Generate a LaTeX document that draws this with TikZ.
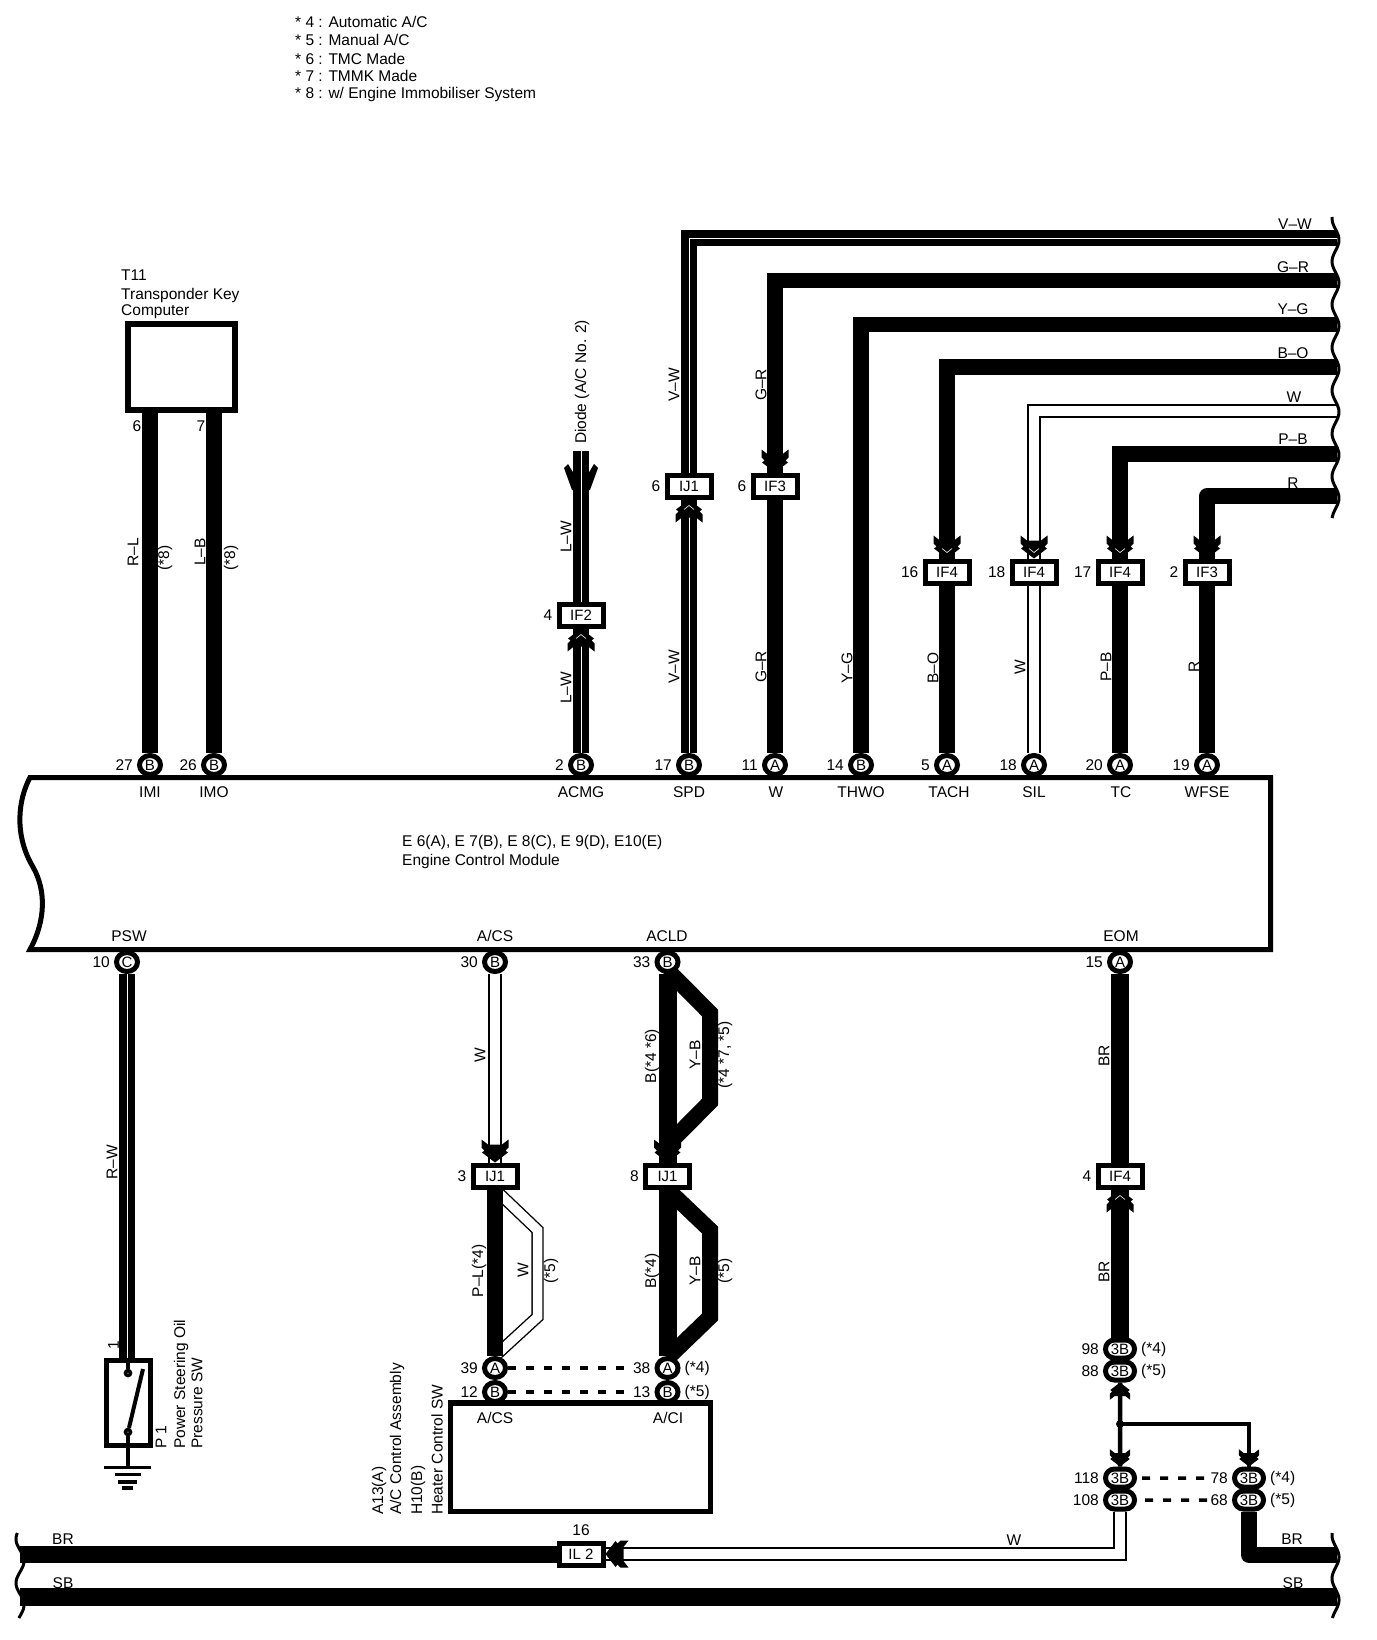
\documentclass[tikz,border=0pt]{standalone}
\usepackage{fontspec}
\setmainfont{Liberation Sans}
\usetikzlibrary{positioning,shapes.geometric,shapes.misc}
\pgfdeclarelayer{wires}
\pgfsetlayers{wires,main}
\tikzset{
  txt/.style={inner sep=0pt,font=\fontsize{15.5}{17}\selectfont},
  vtxt/.style={txt,rotate=90},
  pinring/.style={ellipse,draw,fill=white,line width=5pt,minimum width=21pt,minimum height=19pt,inner sep=0pt,font=\fontsize{15}{17}\selectfont},
  pinlong/.style={rounded rectangle,draw,fill=white,line width=5pt,minimum width=29pt,minimum height=18pt,inner sep=0pt,font=\fontsize{15}{17}\selectfont},
  joint/.style={rectangle,draw,fill=white,line width=5pt,minimum width=44pt,minimum height=22pt,inner sep=0pt,font=\fontsize{15}{17}\selectfont},
  fatwire/.style={draw,line width=15.5pt},
  striped/.style={draw,double=white,double distance=1pt,line width=7.5pt},
  hollow/.style={draw,double=white,double distance=10.5pt,line width=1.4pt},
  linkdash/.style={draw,line width=4pt,dash pattern=on 8pt off 10pt},
  breakline/.style={line width=3pt,smooth,samples=70},
  pics/wedge/.style={code={
    \fill (0,0) -- (-13,-10) -- (-10.5,-12) -- (-13.5,-15) -- (-13.5,-23) -- (-7,-18) -- (7,-18) -- (13.5,-23) -- (13.5,-15) -- (10.5,-12) -- (13,-10) -- cycle;
  }},
  pics/wedgenick/.style={code={
    \fill (0,0) -- (-13,-10) -- (-10.5,-12) -- (-13.5,-15) -- (-13.5,-23) -- (-7,-18) -- (7,-18) -- (13.5,-23) -- (13.5,-15) -- (10.5,-12) -- (13,-10) -- cycle;
    \draw[white,line width=.6pt] (-5,-10) -- (0,-6) -- (5,-10);
  }}
}
\begin{document}
\begin{tikzpicture}[x=1pt,y=-1pt]
\useasboundingbox (0,0) rectangle (1376,1640);
% notes
\node[txt,anchor=west] (note4) at (295,22) {* 4 : Automatic A/C};
\node[txt,anchor=west] (note5) at (295,40) {* 5 : Manual A/C};
\node[txt,anchor=west] (note6) at (295,58.5) {* 6 : TMC Made};
\node[txt,anchor=west] (note7) at (295,76) {* 7 : TMMK Made};
\node[txt,anchor=west] (note8) at (295,94.5) {* 8 : w/ Engine Immobiliser System};
% ecm
\draw[line width=5pt] (1270.5,777.5) -- (30,777.5) .. controls (18,800) and (14,835) .. (33,867) .. controls (46,890) and (46,920) .. (30,949.5) -- (1270.5,949.5) -- cycle;
\node[txt,anchor=west] (ecmA) at (402,842) {E 6(A), E 7(B), E 8(C), E 9(D), E10(E)};
\node[txt,anchor=west] (ecmB) at (402,861) {Engine Control Module};
% pins on the ecm
\node[pinring] (pIMI) at (150,765) {B};
\node[pinring] (pIMO) at (214,765) {B};
\node[pinring] (pACMG) at (581,765) {B};
\node[pinring] (pSPD) at (689,765) {B};
\node[pinring] (pW) at (775,765) {A};
\node[pinring] (pTHWO) at (861,765) {B};
\node[pinring] (pTACH) at (947,765) {A};
\node[pinring] (pSIL) at (1034,765) {A};
\node[pinring] (pTC) at (1120,765) {A};
\node[pinring] (pWFSE) at (1207,765) {A};
\node[pinring] (pPSW) at (127,962) {C};
\node[pinring] (pACS) at (495,962) {B};
\node[pinring] (pACLD) at (667.5,962) {B};
\node[pinring] (pEOM) at (1120,962) {A};
\node[txt,left=4pt of pIMI] (n27) {27};
\node[txt,left=4pt of pIMO] (n26) {26};
\node[txt,left=4pt of pACMG] (n2a) {2};
\node[txt,left=4pt of pSPD] (n17a) {17};
\node[txt,left=4pt of pW] (n11) {11};
\node[txt,left=4pt of pTHWO] (n14) {14};
\node[txt,left=4pt of pTACH] (n5) {5};
\node[txt,left=4pt of pSIL] (n18a) {18};
\node[txt,left=4pt of pTC] (n20) {20};
\node[txt,left=4pt of pWFSE] (n19) {19};
\node[txt,left=4pt of pPSW] (n10) {10};
\node[txt,left=4pt of pACS] (n30) {30};
\node[txt,left=4pt of pACLD] (n33) {33};
\node[txt,left=4pt of pEOM] (n15) {15};
\node[txt] (sIMI) at (150,792) {IMI};
\node[txt] (sIMO) at (214,792) {IMO};
\node[txt] (sACMG) at (581,792) {ACMG};
\node[txt] (sSPD) at (689,792) {SPD};
\node[txt] (sW) at (776,792) {W};
\node[txt] (sTHWO) at (861,792) {THWO};
\node[txt] (sTACH) at (949,792) {TACH};
\node[txt] (sSIL) at (1034,792) {SIL};
\node[txt] (sTC) at (1121,792) {TC};
\node[txt] (sWFSE) at (1207,792) {WFSE};
\node[txt] (sPSW) at (129,936) {PSW};
\node[txt] (sACS) at (495,936) {A/CS};
\node[txt] (sACLD) at (667,936) {ACLD};
\node[txt] (sEOM) at (1121,936) {EOM};
% t11
\node[draw,line width=6pt,minimum width=107pt,minimum height=86pt,inner sep=0pt] (bT11) at (181.5,367) {};
\node[txt,anchor=west] (tT11a) at (121,275) {T11};
\node[txt,anchor=west] (tT11b) at (121,295) {Transponder Key};
\node[txt,anchor=west] (tT11c) at (121,312) {Computer};
\node[txt] (n6t) at (137,426) {6};
\node[txt] (n7t) at (201,426) {7};
% joints
\node[joint] (jIF2) at (581,615) {IF2};
\node[joint] (jIJ1a) at (689,486) {IJ1};
\node[joint] (jIF3a) at (775,486) {IF3};
\node[joint] (jIF4a) at (947,572) {IF4};
\node[joint] (jIF4b) at (1034,572) {IF4};
\node[joint] (jIF4c) at (1120,572) {IF4};
\node[joint] (jIF3b) at (1207,572) {IF3};
\node[joint] (jIJ1b) at (495,1176) {IJ1};
\node[joint] (jIJ1c) at (667.5,1176) {IJ1};
\node[joint] (jIF4d) at (1120,1176) {IF4};
\node[joint] (jIL2) at (581,1554) {IL 2};
\node[txt,left=4pt of jIF2] (n4a) {4};
\node[txt,left=4pt of jIJ1a] (n6a) {6};
\node[txt,left=4pt of jIF3a] (n6b) {6};
\node[txt,left=4pt of jIF4a] (n16) {16};
\node[txt,left=4pt of jIF4b] (n18b) {18};
\node[txt,left=4pt of jIF4c] (n17b) {17};
\node[txt,left=4pt of jIF3b] (n2b) {2};
\node[txt,left=4pt of jIJ1b] (n3) {3};
\node[txt,left=4pt of jIJ1c] (n8) {8};
\node[txt,left=4pt of jIF4d] (n4b) {4};
\node[txt] (n16b) at (581,1530) {16};
% a/c control
\node[draw,line width=5.5pt,minimum width=260pt,minimum height=108.5pt,inner sep=0pt] (bAC) at (580.5,1457) {};
\node[txt] (sACSb) at (495,1418) {A/CS};
\node[txt] (sACI) at (668,1418) {A/CI};
\node[pinring] (pA39) at (495,1368) {A};
\node[pinring] (pB12) at (495,1392) {B};
\node[pinring] (pA38) at (667.5,1368) {A};
\node[pinring] (pB13) at (667.5,1392) {B};
\node[txt,left=4pt of pA39] (n39) {39};
\node[txt,left=4pt of pB12] (n12) {12};
\node[txt,left=4pt of pA38] (n38) {38};
\node[txt,left=4pt of pB13] (n13) {13};
\node[txt,right=4pt of pA38] (m4a) {(*4)};
\node[txt,right=4pt of pB13] (m5a) {(*5)};
\node[vtxt,anchor=west] (tACa) at (379,1515) {A13(A)};
\node[vtxt,anchor=west] (tACb) at (397,1515) {A/C Control Assembly};
\node[vtxt,anchor=west] (tACc) at (418,1515) {H10(B)};
\node[vtxt,anchor=west] (tACd) at (437,1515) {Heater Control SW};
\draw[linkdash] (pA39) -- (n38);
\draw[linkdash] (pB12) -- (n13);
% 3b pins
\node[pinlong] (tB98) at (1120,1349) {3B};
\node[pinlong] (tB88) at (1120,1371) {3B};
\node[pinlong] (tB118) at (1120,1478) {3B};
\node[pinlong] (tB108) at (1120,1500) {3B};
\node[pinlong] (tB78) at (1249,1478) {3B};
\node[pinlong] (tB68) at (1249,1500) {3B};
\node[txt,left=4pt of tB98] (n98) {98};
\node[txt,left=4pt of tB88] (n88) {88};
\node[txt,left=4pt of tB118] (n118) {118};
\node[txt,left=4pt of tB108] (n108) {108};
\node[txt,left=4pt of tB78] (n78) {78};
\node[txt,left=4pt of tB68] (n68) {68};
\node[txt,right=4pt of tB98] (m4b) {(*4)};
\node[txt,right=4pt of tB88] (m5b) {(*5)};
\node[txt,right=4pt of tB78] (m4c) {(*4)};
\node[txt,right=4pt of tB68] (m5c) {(*5)};
\draw[linkdash,line width=3.5pt,shorten <=5pt] (tB118) -- (n78);
\draw[linkdash,line width=3.5pt,shorten <=8pt] (tB108) -- (n68);
% switch
\node[draw,line width=4.7pt,minimum width=44.5pt,minimum height=85.5pt,inner sep=0pt] (swP1) at (128.5,1403) {};
\node[circle,draw,fill=white,line width=3.5pt,minimum size=5pt,inner sep=0pt] (swT) at (128,1373) {};
\node[circle,draw,fill=white,line width=3.5pt,minimum size=5pt,inner sep=0pt] (swB) at (128,1432) {};
\coordinate (cBlade) at (143,1369);
\coordinate (cGnd) at (128,1467);
\draw[line width=4pt] (swB) -- (cBlade);
\draw[line width=3.2pt] (swT |- swP1.north) -- (swT);
\draw[line width=3.2pt] (swB) -- (cGnd);
\fill (104,1465.5) rectangle (151,1469);
\fill (115,1473) rectangle (141,1475.5);
\fill (118,1480) rectangle (137,1484);
\fill (122,1486) rectangle (133,1490);
\node[vtxt] (n1) at (113.5,1345) {1};
\node[vtxt,anchor=west] (tSWa) at (161,1449) {P 1};
\node[vtxt,anchor=west] (tSWb) at (181,1449) {Power Steering Oil};
\node[vtxt,anchor=west] (tSWc) at (197,1449) {Pressure SW};
% free ends
\coordinate (eVW) at (1337,238);
\coordinate (eGR) at (1337,280.5);
\coordinate (eYG) at (1337,324.5);
\coordinate (eBO) at (1337,367);
\coordinate (eWW) at (1337,411);
\coordinate (ePB) at (1337,454);
\coordinate (eRR) at (1337,496);
\coordinate (eBR) at (1337,1555);
\coordinate (eSB) at (1337,1597);
\coordinate (wBR) at (20,1554);
\coordinate (wSB) at (20,1597);
\coordinate (cDiode) at (581,451);
\coordinate (cYz) at (667.5,970);
\coordinate (cYa) at (710,1013);
\coordinate (cYb) at (710,1102);
\coordinate (cYc) at (667.5,1145);
\coordinate (cYd) at (710,1230);
\coordinate (cYe) at (710,1317);
\coordinate (cYf) at (667.5,1358);
\coordinate (cWa) at (537.5,1230);
\coordinate (cWb) at (537.5,1317);
\node[circle,fill,minimum size=8pt,inner sep=0pt] (cJun) at (1120,1424) {};
% wires
\begin{pgfonlayer}{wires}
\draw[fatwire] (bT11.south -| pIMI) -- (pIMI);
\draw[fatwire] (bT11.south -| pIMO) -- (pIMO);
\fill (564,468) -- (568,464) -- (574,474) -- (588,474) -- (594,464) -- (598,468) -- (590,490) -- (572,490) -- cycle;
\draw[striped] (cDiode) -- (jIF2);
\draw[striped] (jIF2) -- (pACMG);
\draw[striped] (jIJ1a) |- (eVW);
\draw[striped] (jIJ1a) -- (pSPD);
\draw[fatwire] (jIF3a) |- (eGR);
\draw[fatwire] (jIF3a) -- (pW);
\draw[fatwire] (pTHWO) |- (eYG);
\draw[fatwire] (jIF4a) |- (eBO);
\draw[fatwire] (jIF4a) -- (pTACH);
\draw[hollow] (jIF4b) |- (eWW);
\draw[hollow] (jIF4b) -- (pSIL);
\draw[fatwire] (jIF4c) |- (ePB);
\draw[fatwire] (jIF4c) -- (pTC);
\draw[fatwire,line join=round] (jIF3b) |- (eRR);
\draw[fatwire] (jIF3b) -- (pWFSE);
\draw[striped] (pPSW) -- (pPSW |- swP1.north);
\draw[hollow] (pACS) -- (jIJ1b);
\draw[fatwire,line width=18pt] (pACLD) -- (jIJ1c);
\draw[fatwire,line width=16pt] (cYz) -- (cYa) -- (cYb) -- (cYc);
\draw[hollow,double distance=9.5pt] (jIJ1b.south) -- (cWa) -- (cWb) -- (pA39.north);
\draw[fatwire,line width=16pt] (jIJ1b) -- (pA39);
\draw[fatwire,line width=18pt] (jIJ1c) -- (pA38);
\draw[fatwire,line width=16pt] (jIJ1c.south) -- (cYd) -- (cYe) -- (cYf);
\draw[fatwire,line width=18pt] (pEOM) -- (jIF4d);
\draw[fatwire,line width=18pt] (jIF4d) -- (tB98);
\draw[line width=4.5pt] (tB88) -- (tB118);
\draw[line width=4pt] (cJun.center) -| (tB78);
\draw[hollow] (tB108) |- (jIL2);
\draw[fatwire,line width=16pt,line join=round] (tB68) |- (eBR);
\draw[fatwire,line width=17pt] (wBR) -- (jIL2);
\draw[fatwire,line width=18pt] (wSB) -- (eSB);
\end{pgfonlayer}
% arrows into the joints
\pic at (jIF3a.north) {wedge};
\pic at (jIF4a.north) {wedgenick};
\pic at (jIF4b.north) {wedgenick};
\pic at (jIF4c.north) {wedgenick};
\pic at (jIF3b.north) {wedge};
\pic at (jIJ1b.north) {wedge};
\pic at (jIJ1c.north) {wedge};
\pic[rotate=180] at (jIJ1a.south) {wedgenick};
\pic[rotate=180] at (jIF2.south) {wedgenick};
\pic[rotate=180] at (jIF4d.south) {wedgenick};
\pic[rotate=-90] at (jIL2.east) {wedge};
\pic[rotate=180,scale=.75] at (tB88.south) {wedge};
\pic[scale=.75] at (tB118.north) {wedge};
\pic[scale=.75] at (tB78.north) {wedge};
% broken ends
\draw[breakline,domain=217:518] plot ({1335.5+3.5*cos((\x-240)*8.372)},\x);
\draw[breakline,domain=1533:1618] plot ({1335.5+3.5*cos((\x-1557)*8.372)},\x);
\draw[breakline,domain=1533:1618] plot ({20+4*cos((\x-1561)*8.182)},\x);
% wire colours
\node[txt] (cVWa) at (1295,224) {V–W};
\node[txt] (cGRa) at (1293,267) {G–R};
\node[txt] (cYGa) at (1293,309) {Y–G};
\node[txt] (cBOa) at (1293,353) {B–O};
\node[txt] (cWWa) at (1294,397) {W};
\node[txt] (cPBa) at (1293,439) {P–B};
\node[txt] (cRRa) at (1293,483) {R};
\node[txt] (cBRa) at (1292,1539) {BR};
\node[txt] (cSBa) at (1293,1583) {SB};
\node[txt] (cBRb) at (63,1539) {BR};
\node[txt] (cSBb) at (63,1583) {SB};
\node[txt] (cWWb) at (1014,1540) {W};
\node[vtxt] (cRL) at (133,552) {R–L};
\node[vtxt] (m8a) at (165,558) {(*8)};
\node[vtxt] (cLB) at (200,552) {L–B};
\node[vtxt] (m8b) at (231,558) {(*8)};
\node[vtxt] (tDiode) at (582,382) {Diode (A/C No. 2)};
\node[vtxt] (cLWa) at (566,537) {L–W};
\node[vtxt] (cLWb) at (566,688) {L–W};
\node[vtxt] (cVWb) at (674,385) {V–W};
\node[vtxt] (cVWc) at (674,667) {V–W};
\node[vtxt] (cGRb) at (761,385) {G–R};
\node[vtxt] (cGRc) at (761,667) {G–R};
\node[vtxt] (cYGb) at (847,668) {Y–G};
\node[vtxt] (cBOb) at (933,668) {B–O};
\node[vtxt] (cWWc) at (1020,667) {W};
\node[vtxt] (cPBb) at (1106,667) {P–B};
\node[vtxt] (cRRb) at (1194,667) {R};
\node[vtxt] (cRW) at (112,1162) {R–W};
\node[vtxt] (cWWd) at (480,1055) {W};
\node[vtxt] (cBa) at (652,1056) {B(*4 *6)};
\node[vtxt] (cYBa) at (695,1055) {Y–B};
\node[vtxt] (m47) at (725,1055) {(*4 *7, *5)};
\node[vtxt] (cPL) at (479,1271) {P–L(*4)};
\node[vtxt] (cWWe) at (523,1270) {W};
\node[vtxt] (m5d) at (551,1271) {(*5)};
\node[vtxt] (cBb) at (652,1271) {B(*4)};
\node[vtxt] (cYBb) at (695,1271) {Y–B};
\node[vtxt] (m5e) at (725,1271) {(*5)};
\node[vtxt] (cBRc) at (1104,1056) {BR};
\node[vtxt] (cBRd) at (1104,1272) {BR};
\end{tikzpicture}
\end{document}
